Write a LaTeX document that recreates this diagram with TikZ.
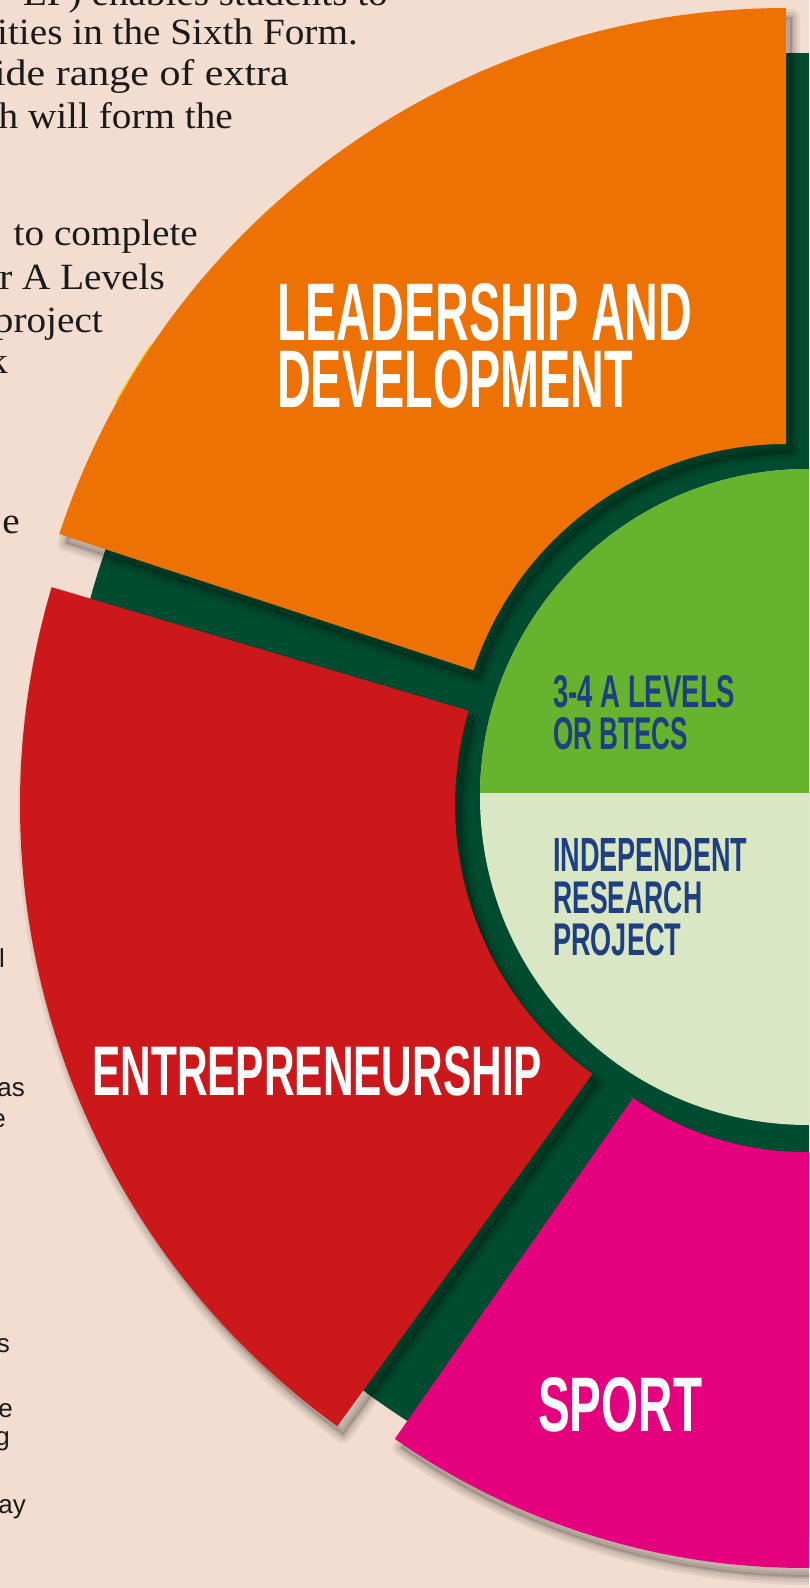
\documentclass[tikz,border=0pt]{standalone}
\usepackage{fontspec}
\usepackage{graphicx}
\setmainfont{Liberation Serif}[FakeStretch=1.06]
\newfontfamily\smallsans{Liberation Sans}
\usetikzlibrary{calc}
\definecolor{bgpeach}{HTML}{F2DDD0}
\definecolor{dkgreen}{HTML}{004C30}
\definecolor{segorange}{HTML}{EE7203}
\definecolor{segred}{HTML}{CC181A}
\definecolor{segpink}{HTML}{E5007D}
\definecolor{ltgreen}{HTML}{DAE7C5}
\definecolor{midgreen}{HTML}{66B32E}
\definecolor{navytext}{HTML}{1F4080}
\definecolor{sliver}{HTML}{F2D200}
\definecolor{inktext}{HTML}{1A1A1A}

% annular sector: cx, cy, r_in, r_out, angle1, angle2 (screen angles, y down)
\newcommand{\annsec}[6]{($(#1,#2)+(#5:#4)$) arc[start angle=#5,end angle=#6,radius=#4] -- ($(#1,#2)+(#6:#3)$) arc[start angle=#6,end angle=#5,radius=#3] -- cycle}
\newcommand{\segshadow}[6]{%
  \foreach \w/\op in {16/0.06,10/0.08,4/0.10}{%
    \draw[black,opacity=\op,line width=\w,line join=round,shift={(6,9)}] \annsec{#1}{#2}{#3}{#4}{#5}{#6};}%
  \fill[black,opacity=0.14,shift={(6,9)}] \annsec{#1}{#2}{#3}{#4}{#5}{#6};}
\newcommand{\fitlbl}[3]{\resizebox{#1pt}{#2pt}{\smallsans\bfseries #3}}

\tikzset{
  seglabel/.style={text=white,inner sep=0pt,anchor=base west},
  corelabel/.style={text=navytext,inner sep=0pt,anchor=base west},
  bodyserif/.style={inner sep=0pt,anchor=base east,text=inktext,font=\fontsize{37}{44}\selectfont},
  bodysans/.style={inner sep=0pt,anchor=base east,text=inktext,font=\smallsans\fontsize{26}{30}\selectfont}
}

\begin{document}
\begin{tikzpicture}[x=1pt,y=-1pt]
\useasboundingbox (0,0) rectangle (809,1588);
\clip (0,0) rectangle (809,1588);
\fill[bgpeach] (0,0) rectangle (809,1588);

% left column text (partly hidden)
\node[bodyserif] (t0) at (388,5) {EP) enables students to};
\node[bodyserif] (t1) at (358,44) {ities in the Sixth Form.};
\node[bodyserif] (t2) at (289,85) {\scalebox{1.07}[1]{ide range of extra}};
\node[bodyserif] (t3) at (233,128) {h will form the};
\node[bodyserif] (t4) at (198,245) {to complete};
\node[bodyserif] (t5) at (165,289) {r A Levels};
\node[bodyserif] (t6) at (103,332) {project};
\node[bodyserif] (t7) at (8,373) {k};
\node[bodyserif] (t8) at (20,533) {e};

\node[bodysans] (s1) at (5,967) {l};
\node[bodysans] (s2) at (25,1096) {as};
\node[bodysans] (s3) at (6,1127) {e};
\node[bodysans] (s4) at (10,1352) {s};
\node[bodysans] (s5) at (13,1417) {e};
\node[bodysans] (s6) at (10,1445) {g};
\node[bodysans] (s7) at (26,1513) {ay};

% dark green disk
\fill[dkgreen] (806,795) circle[radius=742];

% core circle
\fill[ltgreen] (808,797) circle[radius=328];
\begin{scope}
  \clip (808,797) circle[radius=328];
  \fill[midgreen] (400,400) rectangle (820,793);
\end{scope}

% orange segment
\segshadow{786}{773}{329}{765}{198.2}{270}
\draw[sliver,line width=2] ($(786,773)+(209:765.5)$) arc[start angle=209,end angle=214,radius=765.5];
\fill[segorange] \annsec{786}{773}{329}{765}{198.2}{270};

% red segment
\segshadow{787}{805}{332}{767}{125.9}{196.5}
\fill[segred] \annsec{787}{805}{332}{767}{125.9}{196.5};

% pink segment
\segshadow{805}{852}{300}{716}{50}{124.95}
\fill[segpink] \annsec{805}{852}{300}{716}{50}{124.95};

% labels
\node[seglabel] (lead1) at (277,340) {\fitlbl{415}{57}{LEADERSHIP AND}};
\node[seglabel] (lead2) at (277,407) {\fitlbl{356}{57}{DEVELOPMENT}};
\node[seglabel] (entre) at (92,1095) {\fitlbl{450}{49}{ENTREPRENEURSHIP}};
\node[seglabel] (sport) at (538,1431) {\fitlbl{164}{54}{SPORT}};

\node[corelabel] (alev1) at (553,707) {\fitlbl{182}{32}{3-4 A LEVELS}};
\node[corelabel] (alev2) at (553,749) {\fitlbl{135}{32}{OR BTECS}};
\node[corelabel] (irp1) at (553,871) {\fitlbl{194}{33}{INDEPENDENT}};
\node[corelabel] (irp2) at (553,913) {\fitlbl{149}{32}{RESEARCH}};
\node[corelabel] (irp3) at (553,955) {\fitlbl{128}{32}{PROJECT}};
\end{tikzpicture}
\end{document}
